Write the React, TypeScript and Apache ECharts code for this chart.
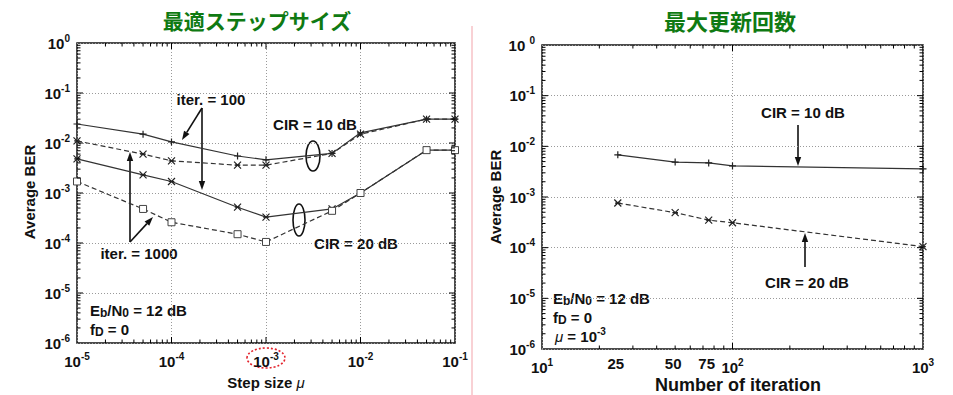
import React, { useEffect, useRef } from "react";
import * as echarts from "echarts";

// ---------- data ----------
const stepSizes = [1e-5, 5e-5, 1e-4, 5e-4, 1e-3, 5e-3, 1e-2, 5e-2, 1e-1];
const cir10Iter100 = [0.024, 0.015, 0.0105, 0.0055, 0.0046, 0.0062, 0.016, 0.03, 0.03];
const cir10Iter1000 = [0.011, 0.006, 0.0044, 0.0036, 0.0036, 0.0062, 0.015, 0.03, 0.03];
const cir20Iter100 = [0.0048, 0.0023, 0.0017, 0.00052, 0.00033, 0.00048, 0.001, 0.0072, 0.0072];
const cir20Iter1000 = [0.0017, 0.00048, 0.00026, 0.00015, 0.000105, 0.00044, 0.001, 0.0072, 0.0072];

const iterations = [25, 50, 75, 100, 1000];
const cir10ByIter = [0.0068, 0.0049, 0.0047, 0.0041, 0.0036];
const cir20ByIter = [0.00076, 0.00049, 0.00035, 0.00031, 0.000105];

const extraIterLabels = [25, 50, 75];

const leftTitle = "最適ステップサイズ";
const rightTitle = "最大更新回数";

// ---------- styles ----------
const F = "'Liberation Sans', Arial, sans-serif";
const CJK = "'Noto Sans CJK JP', sans-serif";
const INK = "#111";
const LINE = "#333";
const FS = 15;

const SYM_PLUS = "path://M0,5L10,5M5,0L5,10";
const SYM_X = "path://M0,0L10,10M10,0L0,10M1,5L9,5";

const pairs = (xs: number[], ys: number[]) => xs.map((x, i) => [x, ys[i]]);

function supFormatter(spaceZero: boolean) {
  return (v: number) => {
    const e = Math.round(Math.log10(v));
    if (spaceZero && e === 0) return "{b|10 }{s|0}";
    return `{b|10}{s|${e}}`;
  };
}

const richSup = {
  b: { fontSize: FS, fontWeight: "bold", fontFamily: F, color: INK },
  s: { fontSize: 10, fontWeight: "bold", fontFamily: F, color: INK, padding: [0, 0, 10, 0] },
};

function tickSeries(idx: number, xr: [number, number], yr: [number, number], extraLabels?: number[]) {
  return {
    type: "custom",
    xAxisIndex: idx,
    yAxisIndex: idx,
    silent: true,
    clip: false,
    z: 5,
    data: [[Math.pow(10, xr[0]), Math.pow(10, yr[0])]],
    renderItem: (_p: any, api: any) => {
      const children: any[] = [];
      const lb = api.coord([Math.pow(10, xr[0]), Math.pow(10, yr[0])]);
      const rt = api.coord([Math.pow(10, xr[1]), Math.pow(10, yr[1])]);
      const st = { stroke: "#000", lineWidth: 1 };
      for (let e = xr[0]; e < xr[1]; e++) {
        for (let m = 1; m <= 9; m++) {
          if (e === xr[0] && m === 1) continue;
          const px = api.coord([m * Math.pow(10, e), Math.pow(10, yr[0])])[0];
          const len = m === 1 ? 6 : 3.5;
          children.push({ type: "line", shape: { x1: px, y1: lb[1], x2: px, y2: lb[1] - len }, style: st });
          children.push({ type: "line", shape: { x1: px, y1: rt[1], x2: px, y2: rt[1] + len }, style: st });
        }
      }
      for (let e = yr[0]; e < yr[1]; e++) {
        for (let m = 1; m <= 9; m++) {
          if (e === yr[0] && m === 1) continue;
          const py = api.coord([Math.pow(10, xr[0]), m * Math.pow(10, e)])[1];
          const len = m === 1 ? 6 : 3.5;
          children.push({ type: "line", shape: { x1: lb[0], y1: py, x2: lb[0] + len, y2: py }, style: st });
          children.push({ type: "line", shape: { x1: rt[0], y1: py, x2: rt[0] - len, y2: py }, style: st });
        }
      }
      (extraLabels || []).forEach((v) => {
        const px = api.coord([v, Math.pow(10, yr[0])])[0];
        children.push({
          type: "text",
          x: px - 2,
          y: lb[1] + 14,
          style: { text: String(v), align: "center", verticalAlign: "middle", fontSize: FS, fontWeight: "bold", fontFamily: F, fill: INK },
        });
      });
      return { type: "group", children };
    },
  };
}

function arrow(x1: number, y1: number, x2: number, y2: number) {
  const dx = x2 - x1, dy = y2 - y1;
  const L = Math.hypot(dx, dy);
  const ux = dx / L, uy = dy / L;
  const hl = 9, hw = 3.2;
  const bx = x2 - ux * hl, by = y2 - uy * hl;
  return [
    { type: "line", shape: { x1, y1, x2: bx, y2: by }, style: { stroke: INK, lineWidth: 1.6 } },
    {
      type: "polygon",
      shape: { points: [[x2, y2], [bx - uy * hw, by + ux * hw], [bx + uy * hw, by - ux * hw]] },
      style: { fill: INK },
    },
  ];
}

function label(text: string, x: number, y: number, extra: any = {}) {
  return {
    type: "text",
    x,
    y,
    style: { text, align: "center", verticalAlign: "middle", fontSize: FS, fontWeight: "bold", fontFamily: F, fill: INK, ...extra },
  };
}

const richNote = {
  n: { fontSize: FS, fontWeight: "bold", fontFamily: F, fill: INK, color: INK },
  sub: { fontSize: 12, fontWeight: "bold", fontFamily: F, fill: INK, color: INK, padding: [5, 0, 0, 0] },
  sup: { fontSize: 10, fontWeight: "bold", fontFamily: F, fill: INK, color: INK, padding: [0, 0, 10, 0] },
  i: { fontSize: FS, fontStyle: "italic", fontFamily: F, fill: INK, color: INK },
};

function note(text: string, x: number, y: number) {
  return {
    type: "text",
    x,
    y,
    style: { text, align: "left", verticalAlign: "middle", rich: richNote, fontSize: FS, fontFamily: F, fill: INK },
  };
}

function lineSeries(idx: number, data: number[][], dashed: boolean, symbol: string, squareStyle = false) {
  return {
    type: "line",
    xAxisIndex: idx,
    yAxisIndex: idx,
    data,
    symbol,
    symbolSize: 7,
    showSymbol: true,
    z: 3,
    lineStyle: { color: LINE, width: 1.2, type: dashed ? [5, 3] : "solid" },
    itemStyle: squareStyle
      ? { color: "#fff", borderColor: "#444", borderWidth: 1 }
      : { color: "none", borderColor: "#222", borderWidth: 1.2 },
  };
}

export default function App() {
  const ref = useRef<HTMLDivElement>(null);

  useEffect(() => {
    if (!ref.current) return;
    const chart = echarts.init(ref.current, undefined, { renderer: "svg" });

    const splitLine = { show: true, lineStyle: { color: "#9a9a9a", type: [1, 2], width: 1 } };

    const xAxisBase = {
      type: "log",
      axisLine: { show: false },
      axisTick: { show: false },
      splitLine,
      axisLabel: { formatter: supFormatter(false), rich: richSup, margin: 8 },
    };

    const option: any = {
      animation: false,
      backgroundColor: "#fff",
      grid: [
        { left: 77, top: 43, width: 378, height: 300, show: true, borderColor: "#111", borderWidth: 1.5, backgroundColor: "transparent" },
        { left: 542, top: 45, width: 381, height: 304, show: true, borderColor: "#111", borderWidth: 1.5, backgroundColor: "transparent" },
      ],
      xAxis: [
        { ...xAxisBase, gridIndex: 0, min: 1e-5, max: 1e-1 },
        { ...xAxisBase, gridIndex: 1, min: 10, max: 1000 },
      ],
      yAxis: [
        {
          type: "log", gridIndex: 0, min: 1e-6, max: 1,
          axisLine: { show: false }, axisTick: { show: false }, splitLine,
          axisLabel: { formatter: supFormatter(false), rich: richSup, margin: 7 },
        },
        {
          type: "log", gridIndex: 1, min: 1e-6, max: 1,
          axisLine: { show: false }, axisTick: { show: false }, splitLine,
          axisLabel: { formatter: supFormatter(true), rich: richSup, margin: 7 },
        },
      ],
      series: [
        lineSeries(0, pairs(stepSizes, cir10Iter100), false, SYM_PLUS),
        lineSeries(0, pairs(stepSizes, cir10Iter1000), true, SYM_X),
        lineSeries(0, pairs(stepSizes, cir20Iter100), false, SYM_X),
        lineSeries(0, pairs(stepSizes, cir20Iter1000), true, "rect", true),
        lineSeries(1, pairs(iterations, cir10ByIter), false, SYM_PLUS),
        lineSeries(1, pairs(iterations, cir20ByIter), true, SYM_X),
        tickSeries(0, [-5, -1], [-6, 0]),
        tickSeries(1, [1, 3], [-6, 0], extraIterLabels),
      ],
      graphic: [
        // titles
        { type: "text", x: 257, y: 20, style: { text: leftTitle, align: "center", verticalAlign: "middle", fontSize: 21, fontWeight: "bold", fontFamily: CJK, fill: "#0f7a12" } },
        { type: "text", x: 730, y: 20, style: { text: rightTitle, align: "center", verticalAlign: "middle", fontSize: 22, fontWeight: "bold", fontFamily: CJK, fill: "#0f7a12" } },
        // divider
        { type: "line", shape: { x1: 472, y1: 26, x2: 472, y2: 395 }, style: { stroke: "#f2a3aa", lineWidth: 1 } },
        // axis names
        { type: "text", x: 29, y: 192, rotation: Math.PI / 2, style: { text: "Average BER", align: "center", verticalAlign: "middle", fontSize: FS, fontWeight: "bold", fontFamily: F, fill: INK } },
        { type: "text", x: 495, y: 197, rotation: Math.PI / 2, style: { text: "Average BER", align: "center", verticalAlign: "middle", fontSize: FS, fontWeight: "bold", fontFamily: F, fill: INK } },
        { type: "text", x: 266, y: 382, style: { text: "{n|Step size }{i|μ}", rich: richNote, align: "center", verticalAlign: "middle", fontSize: FS, fontFamily: F, fill: INK } },
        { type: "text", x: 738, y: 385, style: { text: "Number of iteration", align: "center", verticalAlign: "middle", fontSize: 18, fontWeight: "bold", fontFamily: F, fill: INK } },
        // red dotted ellipse around 10^-3
        { type: "ellipse", shape: { cx: 266, cy: 358, rx: 19, ry: 10 }, style: { fill: "none", stroke: "#e3232c", lineWidth: 1.6, lineDash: [2, 2] } },
        // left annotations
        label("iter. = 100", 211, 99),
        ...arrow(202, 108, 182, 140),
        ...arrow(202, 108, 202, 190),
        label("iter. = 1000", 139, 253),
        ...arrow(130, 242, 130, 152),
        ...arrow(130, 242, 153, 217),
        label("CIR = 10 dB", 315, 124),
        { type: "ellipse", shape: { cx: 313, cy: 156, rx: 7, ry: 15 }, style: { fill: "none", stroke: INK, lineWidth: 1.6 } },
        label("CIR = 20 dB", 356, 243),
        { type: "ellipse", shape: { cx: 299, cy: 220, rx: 6, ry: 16 }, style: { fill: "none", stroke: INK, lineWidth: 1.6 } },
        note("{n|E}{sub|b}{n|/N}{sub|0}{n| = 12 dB}", 90, 310),
        note("{n|f}{sub|D}{n| = 0}", 90, 329),
        // right annotations
        label("CIR = 10 dB", 803, 112),
        ...arrow(798, 125, 798, 166),
        label("CIR = 20 dB", 807, 282),
        ...arrow(805, 267, 805, 233),
        note("{n|E}{sub|b}{n|/N}{sub|0}{n| = 12 dB}", 553, 298),
        note("{n|f}{sub|D}{n| = 0}", 553, 317),
        note("{i|μ}{n| = 10}{sup|-3}", 555, 336),
      ],
    };

    chart.setOption(option);
    return () => chart.dispose();
  }, []);

  return <div ref={ref} style={{ position: "fixed", left: 0, top: 0, width: 953, height: 395 }} />;
}
